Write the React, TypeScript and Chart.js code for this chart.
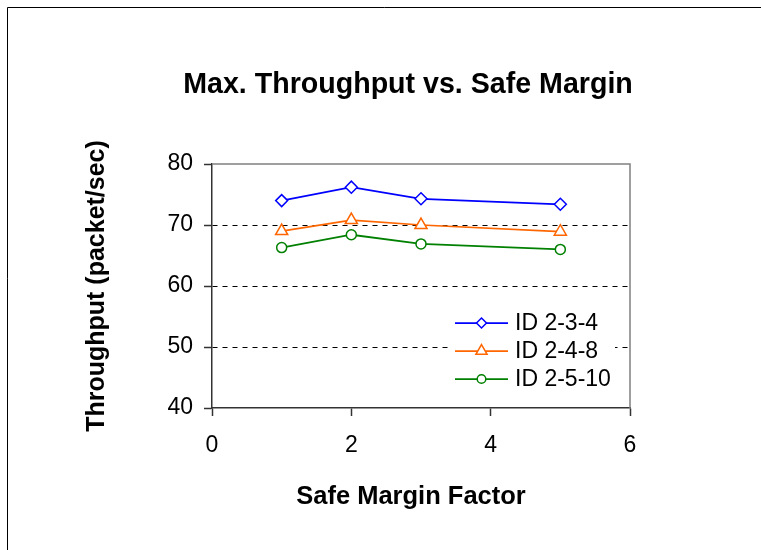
import React, { useEffect, useRef } from "react";
import { Chart, registerables } from "chart.js";

Chart.register(...registerables);

// Safe margin factors tested and the max throughput measured for each topology
const marginFactors = [1, 2, 3, 5];
const id234 = [74.0, 76.2, 74.3, 73.4];
const id248 = [69.0, 70.8, 70.0, 68.9];
const id2510 = [66.3, 68.4, 66.9, 66.0];
const seriesLabels = ["ID 2-3-4", "ID 2-4-8", "ID 2-5-10"];

const xTickValues = [0, 2, 4, 6];
const yTickValues = [40, 50, 60, 70, 80];

const chartTitle = "Max. Throughput vs. Safe Margin";
const xAxisTitle = "Safe Margin Factor";
const yAxisTitle = "Throughput (packet/sec)";

const FONT = "'Liberation Sans', Arial, sans-serif";
const AXIS_COLOR = "#333333";
const FRAME_COLOR = "#808080";

type Marker = "rectRot" | "triangle" | "circle";

function drawMarker(
  ctx: CanvasRenderingContext2D,
  style: Marker,
  x: number,
  y: number,
  r: number,
  color: string,
  lineWidth: number
) {
  ctx.save();
  ctx.beginPath();
  if (style === "rectRot") {
    ctx.moveTo(x, y - r);
    ctx.lineTo(x + r, y);
    ctx.lineTo(x, y + r);
    ctx.lineTo(x - r, y);
    ctx.closePath();
  } else if (style === "triangle") {
    ctx.moveTo(x, y - r);
    ctx.lineTo(x + 0.866 * r, y + 0.5 * r);
    ctx.lineTo(x - 0.866 * r, y + 0.5 * r);
    ctx.closePath();
  } else {
    ctx.arc(x, y, r, 0, Math.PI * 2);
  }
  ctx.fillStyle = "#ffffff";
  ctx.fill();
  ctx.lineWidth = lineWidth;
  ctx.strokeStyle = color;
  ctx.stroke();
  ctx.restore();
}

// White page with the outer frame line
const backgroundPlugin = {
  id: "pageBackground",
  beforeDraw(chart: any) {
    const { ctx, width, height } = chart;
    ctx.save();
    ctx.fillStyle = "#ffffff";
    ctx.fillRect(0, 0, width, height);
    ctx.strokeStyle = "#000000";
    ctx.lineWidth = 1;
    ctx.beginPath();
    ctx.moveTo(7.5, height);
    ctx.lineTo(7.5, 7.5);
    ctx.lineTo(width, 7.5);
    ctx.stroke();
    ctx.restore();
  },
};

// Grey top and right edges of the plot area
const plotFramePlugin = {
  id: "plotFrame",
  beforeDatasetsDraw(chart: any) {
    const { ctx, chartArea } = chart;
    ctx.save();
    ctx.strokeStyle = FRAME_COLOR;
    ctx.lineWidth = 1.5;
    ctx.beginPath();
    ctx.moveTo(chartArea.left, chartArea.top);
    ctx.lineTo(chartArea.right, chartArea.top);
    ctx.lineTo(chartArea.right, chartArea.bottom);
    ctx.stroke();
    ctx.restore();
  },
};

const legendMarkerRadius: Record<string, number> = {
  rectRot: 5,
  triangle: 6.5,
  circle: 4.3,
};

// Legend inside the plot, lower right, line sample with marker
const insideLegendPlugin = {
  id: "insideLegend",
  afterDatasetsDraw(chart: any) {
    const { ctx } = chart;
    const boxLeft = 450;
    const boxTop = 306;
    const boxRight = 615;
    const boxBottom = 393;
    ctx.save();
    ctx.fillStyle = "#ffffff";
    ctx.fillRect(boxLeft, boxTop, boxRight - boxLeft, boxBottom - boxTop);
    chart.data.datasets.forEach((ds: any, i: number) => {
      const baseline = 330 + i * 28;
      const ly = baseline - 7;
      ctx.strokeStyle = ds.borderColor;
      ctx.lineWidth = 1.75;
      ctx.beginPath();
      ctx.moveTo(455, ly);
      ctx.lineTo(508, ly);
      ctx.stroke();
      drawMarker(ctx, ds.pointStyle, 481.5, ly, legendMarkerRadius[ds.pointStyle], ds.borderColor, 1.5);
      ctx.fillStyle = "#000000";
      ctx.font = `23px ${FONT}`;
      ctx.textAlign = "left";
      ctx.textBaseline = "alphabetic";
      ctx.fillText(ds.label, 515, baseline);
    });
    ctx.restore();
  },
};

// Chart title and axis titles
const titlesPlugin = {
  id: "titles",
  afterDraw(chart: any) {
    const { ctx, chartArea } = chart;
    ctx.save();
    ctx.fillStyle = "#000000";
    ctx.textBaseline = "alphabetic";
    ctx.textAlign = "center";
    ctx.font = `bold 28.6px ${FONT}`;
    ctx.fillText(chartTitle, 408, 93);
    ctx.font = `bold 25.5px ${FONT}`;
    ctx.fillText(xAxisTitle, 411, 504);
    ctx.font = `bold 25px ${FONT}`;
    ctx.translate(104, (chartArea.top + chartArea.bottom) / 2);
    ctx.rotate(-Math.PI / 2);
    ctx.fillText(yAxisTitle, 0, 0);
    ctx.restore();
  },
};

export default function App() {
  const canvasRef = useRef<HTMLCanvasElement | null>(null);

  useEffect(() => {
    if (!canvasRef.current) return;
    const toPoints = (ys: number[]) => marginFactors.map((x, i) => ({ x, y: ys[i] }));
    const series: { values: number[]; color: string; style: Marker; radius: number }[] = [
      { values: id234, color: "#0000ff", style: "rectRot", radius: 6 },
      { values: id248, color: "#ff6600", style: "triangle", radius: 7 },
      { values: id2510, color: "#008000", style: "circle", radius: 5 },
    ];

    const chart = new Chart(canvasRef.current, {
      type: "line",
      data: {
        datasets: series.map((s, i) => ({
          label: seriesLabels[i],
          data: toPoints(s.values),
          borderColor: s.color,
          backgroundColor: "#ffffff",
          borderWidth: 1.75,
          pointStyle: s.style,
          pointRadius: s.radius,
          pointBorderWidth: 1.5,
          pointBackgroundColor: "#ffffff",
          pointBorderColor: s.color,
          tension: 0,
          fill: false,
        })),
      },
      options: {
        responsive: false,
        animation: false,
        devicePixelRatio: 1,
        layout: { padding: { top: 164, right: 131, bottom: 82, left: 112 } },
        plugins: {
          legend: { display: false },
          title: { display: false },
          tooltip: { enabled: false },
        },
        scales: {
          x: {
            type: "linear",
            min: 0,
            max: 6,
            afterBuildTicks: (scale: any) => {
              scale.ticks = xTickValues.map((v) => ({ value: v }));
            },
            afterFit: (scale: any) => {
              scale.height = 60;
            },
            ticks: {
              color: "#000000",
              font: { family: FONT, size: 23 },
              padding: 16,
              maxRotation: 0,
            },
            grid: {
              drawOnChartArea: false,
              drawTicks: true,
              tickLength: 8,
              tickColor: AXIS_COLOR,
              tickWidth: 1.5,
            },
            border: { display: true, color: AXIS_COLOR, width: 1.5 },
          },
          y: {
            type: "linear",
            min: 40,
            max: 80,
            afterBuildTicks: (scale: any) => {
              scale.ticks = yTickValues.map((v) => ({ value: v }));
            },
            afterFit: (scale: any) => {
              scale.width = 100;
            },
            ticks: {
              color: "#000000",
              font: { family: FONT, size: 23 },
              padding: 11,
            },
            grid: {
              drawOnChartArea: true,
              drawTicks: true,
              tickLength: 8,
              tickColor: AXIS_COLOR,
              tickWidth: 1.5,
              lineWidth: 1,
              color: (ctx: any) =>
                ctx.tick && (ctx.tick.value === 40 || ctx.tick.value === 80)
                  ? "rgba(0,0,0,0)"
                  : "#000000",
            },
            border: { display: true, color: AXIS_COLOR, width: 1.5, dash: [5, 5] },
          },
        },
      },
      plugins: [backgroundPlugin, plotFramePlugin, insideLegendPlugin, titlesPlugin],
    } as any);

    return () => chart.destroy();
  }, []);

  return (
    <canvas
      ref={canvasRef}
      width={761}
      height={550}
      style={{ position: "absolute", left: 0, top: 0, display: "block" }}
    />
  );
}
